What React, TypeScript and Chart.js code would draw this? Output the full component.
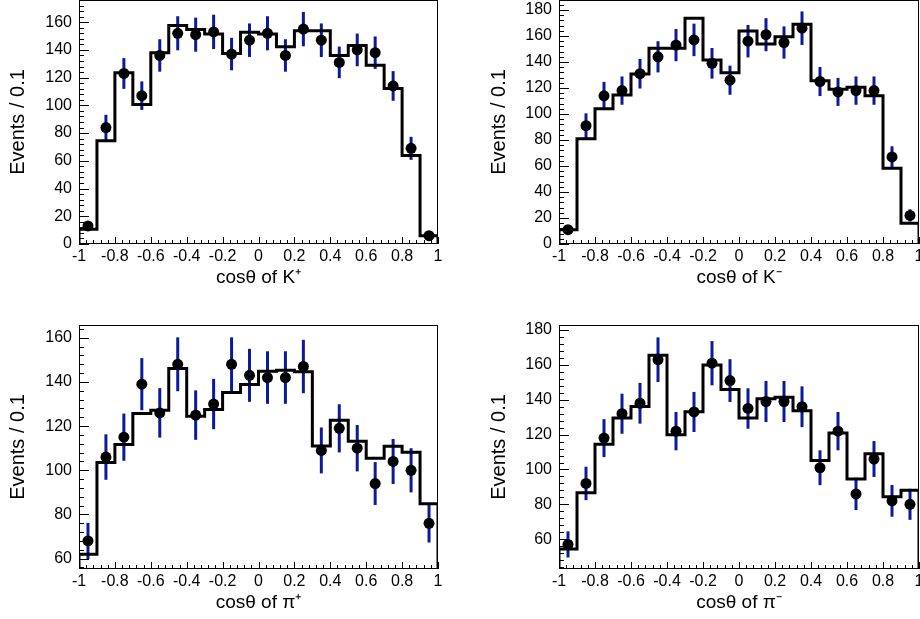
import React, { useEffect, useRef } from "react";
import { Chart, registerables } from "chart.js";

Chart.register(...registerables);
Chart.defaults.font.family = '"Liberation Sans", Arial, Helvetica, sans-serif';
Chart.defaults.color = "#000";

// ---- data ----
const binEdges = [-1, -0.9, -0.8, -0.7, -0.6, -0.5, -0.4, -0.3, -0.2, -0.1, 0, 0.1, 0.2, 0.3, 0.4, 0.5, 0.6, 0.7, 0.8, 0.9, 1];
const binCenters = [-0.95, -0.85, -0.75, -0.65, -0.55, -0.45, -0.35, -0.25, -0.15, -0.05, 0.05, 0.15, 0.25, 0.35, 0.45, 0.55, 0.65, 0.75, 0.85, 0.95];

const kPlusFit = [10.6, 74.5, 123.5, 100.7, 137.9, 157.6, 154.7, 151.4, 137.4, 152.8, 151.4, 142.2, 153.8, 153.8, 136, 143.2, 129, 112.2, 63.9, 6];
const kPlusData = [13, 84, 123, 107, 136, 152, 151, 153, 137, 147, 152, 136, 155, 147, 131, 140, 138, 114, 69, 6];
const kPlusErr = [3.6, 9.2, 11.1, 10.3, 11.7, 12.3, 12.3, 12.4, 11.7, 12.1, 12.3, 11.7, 12.4, 12.1, 11.4, 11.8, 11.7, 10.7, 8.3, 2.4];

const kMinusFit = [11, 81, 104, 114.6, 130.8, 150.5, 150.5, 173.6, 141.5, 131.8, 163.8, 153.8, 159.5, 169, 125.6, 119, 120.5, 114.1, 58.2, 15.9];
const kMinusData = [11, 91, 114, 118, 131, 144, 153, 157, 139, 126, 156, 161, 155, 166, 125, 117, 118, 118, 67, 22];
const kMinusErr = [3.3, 9.5, 10.7, 10.9, 11.4, 12, 12.4, 12.5, 11.8, 11.2, 12.5, 12.7, 12.4, 12.9, 11.2, 10.8, 10.9, 10.9, 8.2, 4.7];

const piPlusFit = [62, 103.5, 111.7, 125.7, 127.2, 146.1, 124.5, 127.5, 135.2, 138.9, 144.9, 145.3, 144.6, 111, 122.7, 113.2, 105.5, 110.9, 108.2, 84.9];
const piPlusData = [68, 106, 115, 139, 126, 148, 125, 130, 148, 143, 142, 142, 147, 109, 119, 110, 94, 104, 100, 76];
const piPlusErr = [8.2, 10.3, 10.7, 11.8, 11.2, 12.2, 11.2, 11.4, 12.2, 12, 11.9, 11.9, 12.1, 10.4, 10.9, 10.5, 9.7, 10.2, 10, 8.7];

const piMinusFit = [54.4, 86.6, 114.5, 129.5, 136.2, 165.6, 119.9, 133.1, 159.9, 145.9, 129.5, 140.6, 141.5, 133.7, 105.2, 120.9, 94.6, 109, 84.3, 88.1];
const piMinusData = [57, 92, 118, 132, 138, 163, 122, 133, 161, 151, 135, 139, 139, 136, 101, 122, 86, 106, 82, 80];
const piMinusErr = [7.5, 9.6, 10.9, 11.5, 11.7, 12.8, 11, 11.5, 12.7, 12.3, 11.6, 11.8, 11.8, 11.7, 10, 11, 9.3, 10.3, 9.1, 8.9];

const xTitles = ["cosθ of K⁺", "cosθ of K⁻", "cosθ of π⁺", "cosθ of π⁻"];
const yTitle = "Events / 0.1";
const yRanges = [
  [0, 176],
  [0, 187.7],
  [55.3, 165.8],
  [42.9, 182.9],
];
const xTickStep = 0.2;
const yTickStep = 20;

// ---- layout ----
type Panel = {
  fit: number[];
  values: number[];
  errors: number[];
  yMin: number;
  yMax: number;
  xTitle: string;
  areaLeft: number;
  areaRight: number;
  areaTop: number;
  areaBottom: number;
  originX: number;
  canvasWidth: number;
  yTitlePad: number;
};

const TOPPAD = 24;
const XAXIS_H = 56;

const panels: Panel[] = [
  { fit: kPlusFit, values: kPlusData, errors: kPlusErr, yMin: yRanges[0][0], yMax: yRanges[0][1], xTitle: xTitles[0], areaLeft: 79, areaRight: 438, areaTop: 0, areaBottom: 244, originX: 0, canvasWidth: 460, yTitlePad: 6 },
  { fit: kMinusFit, values: kMinusData, errors: kMinusErr, yMin: yRanges[1][0], yMax: yRanges[1][1], xTitle: xTitles[1], areaLeft: 559, areaRight: 919, areaTop: 0, areaBottom: 244, originX: 460, canvasWidth: 480, yTitlePad: 27 },
  { fit: piPlusFit, values: piPlusData, errors: piPlusErr, yMin: yRanges[2][0], yMax: yRanges[2][1], xTitle: xTitles[2], areaLeft: 79, areaRight: 438, areaTop: 325, areaBottom: 569, originX: 0, canvasWidth: 460, yTitlePad: 6 },
  { fit: piMinusFit, values: piMinusData, errors: piMinusErr, yMin: yRanges[3][0], yMax: yRanges[3][1], xTitle: xTitles[3], areaLeft: 559, areaRight: 919, areaTop: 325, areaBottom: 569, originX: 460, canvasWidth: 480, yTitlePad: 27 },
];

const fmtX = (v: number) => {
  const r = Math.round(v * 10) / 10;
  return r === 0 ? "0" : String(r);
};

function HistPanel({ p }: { p: Panel }) {
  const ref = useRef<HTMLCanvasElement | null>(null);
  const height = TOPPAD + (p.areaBottom - p.areaTop) + XAXIS_H;

  useEffect(() => {
    if (!ref.current) return;

    const histPoints = [{ x: binEdges[0], y: p.yMin }];
    for (let i = 0; i < p.fit.length; i++) histPoints.push({ x: binEdges[i], y: p.fit[i] });
    histPoints.push({ x: binEdges[binEdges.length - 1], y: p.fit[p.fit.length - 1] });
    histPoints.push({ x: binEdges[binEdges.length - 1], y: p.yMin });

    const dataPoints = binCenters.map((c, i) => ({ x: c, y: p.values[i] }));

    const framePlugin = {
      id: "rootFrame",
      beforeDatasetDraw(chart: any, args: any) {
        if (args.index !== 1) return;
        const { ctx, chartArea: a, scales } = chart;
        const xs = scales.x;
        const ys = scales.y;
        ctx.save();
        ctx.beginPath();
        ctx.rect(a.left, a.top, a.right - a.left, a.bottom - a.top);
        ctx.clip();
        ctx.strokeStyle = "#0b1a9c";
        ctx.lineWidth = 3;
        ctx.lineCap = "butt";
        for (let i = 0; i < binCenters.length; i++) {
          const px = xs.getPixelForValue(binCenters[i]);
          const y1 = ys.getPixelForValue(p.values[i] - p.errors[i]);
          const y2 = ys.getPixelForValue(p.values[i] + p.errors[i]);
          ctx.beginPath();
          ctx.moveTo(px, y1);
          ctx.lineTo(px, y2);
          ctx.stroke();
        }
        ctx.restore();
      },
      afterDatasetsDraw(chart: any) {
        const { ctx, chartArea: a, scales } = chart;
        const xs = scales.x;
        const ys = scales.y;
        ctx.save();
        ctx.strokeStyle = "#000";
        ctx.lineWidth = 1;
        ctx.strokeRect(a.left + 0.5, a.top + 0.5, a.right - a.left - 1, a.bottom - a.top - 1);
        // y ticks
        const yMinor = yTickStep / 5;
        for (let k = Math.ceil(ys.min / yMinor - 1e-9); k * yMinor <= ys.max + 1e-9; k++) {
          const v = k * yMinor;
          const major = k % 5 === 0;
          const len = major ? 10 : 5;
          const py = Math.round(ys.getPixelForValue(v)) + 0.5;
          ctx.beginPath();
          ctx.moveTo(a.left, py);
          ctx.lineTo(a.left + len, py);
          ctx.stroke();
        }
        // x ticks
        const xMinor = xTickStep / 5;
        for (let k = Math.ceil(xs.min / xMinor - 1e-9); k * xMinor <= xs.max + 1e-9; k++) {
          const v = k * xMinor;
          const major = k % 5 === 0;
          const len = major ? 7 : 4;
          const px = Math.round(xs.getPixelForValue(v)) + 0.5;
          ctx.beginPath();
          ctx.moveTo(px, a.bottom);
          ctx.lineTo(px, a.bottom - len);
          ctx.stroke();
        }
        ctx.restore();
      },
    };

    const chart = new Chart(ref.current, {
      type: "line",
      data: {
        datasets: [
          {
            data: histPoints,
            borderColor: "#000",
            borderWidth: 3,
            stepped: true,
            pointRadius: 0,
            fill: false,
            tension: 0,
            borderJoinStyle: "miter",
          } as any,
          {
            data: dataPoints,
            showLine: false,
            pointRadius: 5.5,
            pointBackgroundColor: "#000",
            pointBorderColor: "#000",
            pointBorderWidth: 0,
          } as any,
        ],
      },
      options: {
        responsive: false,
        animation: false,
        events: [],
        layout: {
          autoPadding: false,
          padding: {
            left: 0,
            top: TOPPAD,
            right: p.canvasWidth - (p.areaRight - p.originX),
            bottom: 0,
          },
        },
        plugins: { legend: { display: false }, tooltip: { enabled: false } },
        scales: {
          x: {
            type: "linear",
            min: binEdges[0],
            max: binEdges[binEdges.length - 1],
            grid: { display: false, drawTicks: false },
            border: { display: false },
            ticks: {
              stepSize: xTickStep,
              autoSkip: false,
              maxRotation: 0,
              includeBounds: false,
              padding: 3,
              font: { size: 16 },
              color: "#000",
              callback: (v: any) => fmtX(Number(v)),
            },
            title: {
              display: true,
              text: p.xTitle,
              font: { size: 19 },
              color: "#000",
              padding: { top: 0, bottom: 11 },
            },
            afterFit: (s: any) => {
              s.height = XAXIS_H;
            },
          },
          y: {
            type: "linear",
            min: p.yMin,
            max: p.yMax,
            grid: { display: false, drawTicks: false },
            border: { display: false },
            ticks: {
              stepSize: yTickStep,
              includeBounds: false,
              autoSkip: false,
              padding: 7,
              font: { size: 16 },
              color: "#000",
              callback: (v: any) => String(Math.round(Number(v))),
            },
            afterBuildTicks: (s: any) => {
              const t: { value: number }[] = [];
              for (let v = Math.ceil(p.yMin / yTickStep - 1e-9) * yTickStep; v <= p.yMax + 1e-9; v += yTickStep) {
                t.push({ value: v });
              }
              s.ticks = t;
            },
            title: {
              display: true,
              text: yTitle,
              font: { size: 20 },
              color: "#000",
              padding: { top: p.yTitlePad, bottom: 0 },
            },
            afterFit: (s: any) => {
              s.width = p.areaLeft - p.originX;
            },
          },
        },
      } as any,
      plugins: [framePlugin],
    });
    return () => chart.destroy();
  }, [p]);

  return (
    <canvas
      ref={ref}
      width={p.canvasWidth}
      height={height}
      style={{
        position: "absolute",
        left: p.originX,
        top: p.areaTop - TOPPAD,
        width: p.canvasWidth,
        height: height,
      }}
    />
  );
}

export default function App() {
  return (
    <div
      style={{
        position: "fixed",
        left: 0,
        top: 0,
        width: 920,
        height: 619,
        overflow: "hidden",
        background: "#fff",
      }}
    >
      {panels.map((p, i) => (
        <HistPanel key={i} p={p} />
      ))}
    </div>
  );
}
